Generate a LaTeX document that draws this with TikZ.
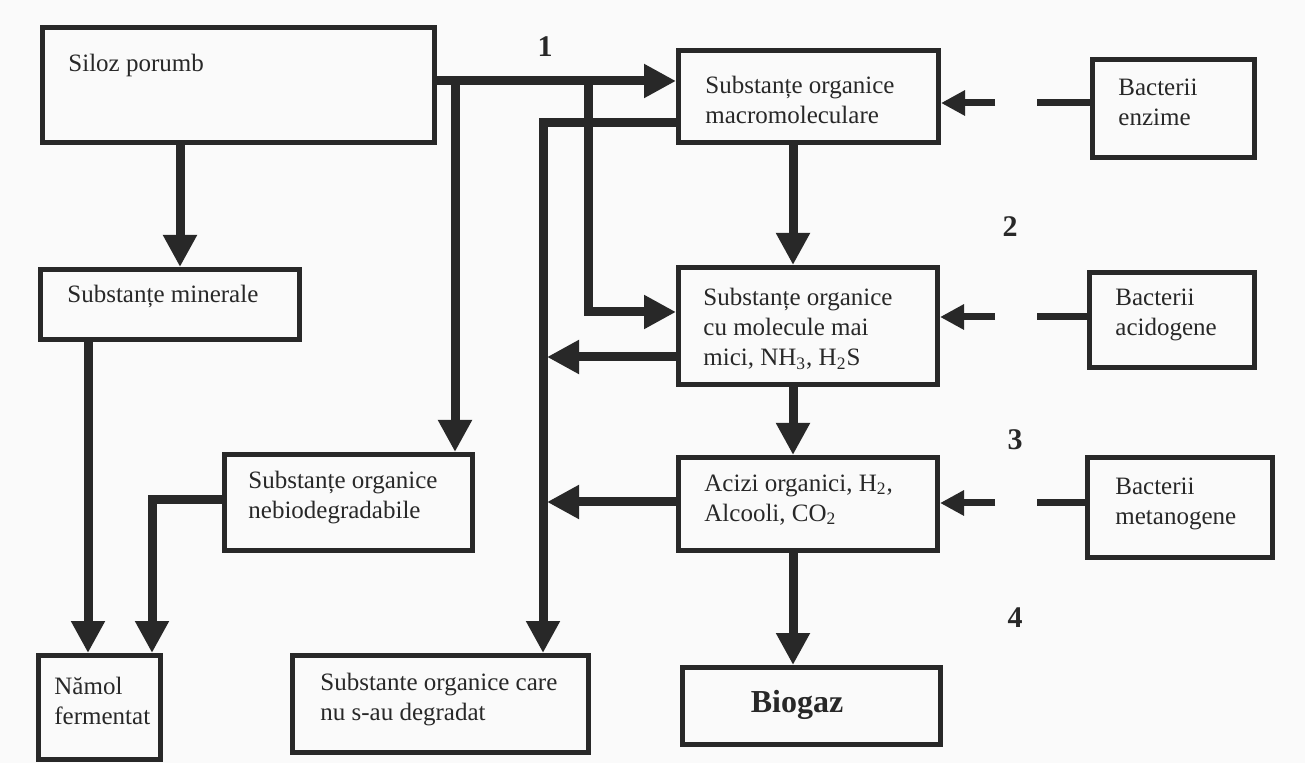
\documentclass[tikz,border=0pt]{standalone}
\usepackage{fontspec}
\setmainfont{Liberation Serif}
\usetikzlibrary{arrows.meta}
\definecolor{ink}{RGB}{40,40,40}
\definecolor{paper}{RGB}{250,250,250}
\tikzstyle{every node}=[inner sep=0pt,text=ink]
\tikzstyle{blk}=[draw=ink,line width=2.5pt,anchor=north west]
\tikzstyle{txt}=[anchor=west,align=left,font=\fontsize{12.5}{15}\selectfont]
\tikzstyle{arr}=[draw=ink,line width=4.5pt,-{Triangle[length=16pt,width=16pt]}]
\tikzstyle{barr}=[draw=ink,line width=3.5pt,-{Triangle[length=12pt,width=12pt]}]
\tikzstyle{bline}=[draw=ink,line width=3.5pt]
\tikzstyle{num}=[font=\bfseries\fontsize{15}{15}\selectfont]

\begin{document}
\begin{tikzpicture}[x=0.5pt,y=-0.5pt]
\fill[paper] (0,0) rectangle (1305,763);
\useasboundingbox (0,0) rectangle (1305,763);
% boxes
\node[blk,minimum width=196pt,minimum height=57.5pt] (siloz) at (40,25) {};
\node[blk,minimum width=130pt,minimum height=46pt] (macro) at (676,48) {};
\node[blk,minimum width=81pt,minimum height=49pt] (enz) at (1090,57) {};
\node[blk,minimum width=129.5pt,minimum height=35pt] (miner) at (38,267) {};
\node[blk,minimum width=129.5pt,minimum height=58.5pt] (cumol) at (676,265) {};
\node[blk,minimum width=82.5pt,minimum height=47.5pt] (acid) at (1087,270) {};
\node[blk,minimum width=124pt,minimum height=48pt] (nebio) at (222,452) {};
\node[blk,minimum width=129.5pt,minimum height=46.5pt] (acizi) at (676,455) {};
\node[blk,minimum width=92.5pt,minimum height=50pt] (metan) at (1085,455) {};
\node[blk,minimum width=61pt,minimum height=52pt] (namol) at (36,653) {};
\node[blk,minimum width=148pt,minimum height=48.5pt] (degr) at (290,653) {};
\node[blk,minimum width=129pt,minimum height=38.5pt] (biogaz) at (680,665) {};
% texts
\node[txt] (siloz-t) at (68,65) {Siloz porumb};
\node[txt] (macro-t) at (705,100) {Substanțe organice\\macromoleculare};
\node[txt] (enz-t) at (1118,102) {Bacterii\\enzime};
\node[txt] (miner-t) at (67,296) {Substanțe minerale};
\node[txt] (cumol-t) at (703,329) {Substanțe organice\\cu molecule mai\\mici, NH\textsubscript{3}, H\textsubscript{2}S};
\node[txt] (acid-t) at (1115,315) {Bacterii\\acidogene};
\node[txt] (nebio-t) at (248,498) {Substanțe organice\\nebiodegradabile};
\node[txt] (acizi-t) at (704,500) {Acizi organici, H\textsubscript{2},\\Alcooli, CO\textsubscript{2}};
\node[txt] (metan-t) at (1115,504) {Bacterii\\metanogene};
\node[txt] (namol-t) at (54,701) {Nămol\\fermentat};
\node[txt] (degr-t) at (320,700) {Substante organice care\\nu s-au degradat};
\node[font=\bfseries\fontsize{16}{16}\selectfont] (biogaz-t) at (797,705) {Biogaz};
% stage numbers
\node[num] (n1) at (545,47) {1};
\node[num] (n2) at (1010,227) {2};
\node[num] (n3) at (1015,440) {3};
\node[num] (n4) at (1015,618) {4};
% branch points
\coordinate (j1) at (455,81);
\coordinate (j2) at (588,81);
\coordinate (v) at (543,123);
\coordinate (c) at (793,0);
% main flow
\draw[arr] (siloz.east |- 0,81) -- (macro.west |- 0,81);
\draw[arr] (j1) -- (nebio.north -| j1);
\draw[arr] (j2) |- (cumol.west |- 0,312);
\draw[arr] (macro.west |- v) -| (degr.north -| v);
\draw[arr,shorten >=2pt] (cumol.west |- 0,357) -- (v |- 0,357);
\draw[arr,shorten >=2pt] (acizi.west |- 0,502) -- (v |- 0,502);
\draw[arr] (macro.south -| c) -- (cumol.north -| c);
\draw[arr] (cumol.south -| c) -- (acizi.north -| c);
\draw[arr] (acizi.south -| c) -- (biogaz.north -| c);
\draw[arr] (siloz.south -| 180,0) -- (miner.north -| 180,0);
\draw[arr] (miner.south -| 88,0) -- (namol.north -| 88,0);
\draw[arr] (nebio.west |- 0,500) -| (namol.north -| 152,0);
% bacteria
\coordinate (g1) at (1037,103);
\coordinate (h1) at (995,103);
\coordinate (g2) at (1037,317);
\coordinate (h2) at (995,317);
\coordinate (g3) at (1037,503);
\coordinate (h3) at (995,503);
\draw[bline] (enz.west |- g1) -- (g1);
\draw[barr] (h1) -- (macro.east |- h1);
\draw[bline] (acid.west |- g2) -- (g2);
\draw[barr] (h2) -- (cumol.east |- h2);
\draw[bline] (metan.west |- g3) -- (g3);
\draw[barr] (h3) -- (acizi.east |- h3);
\end{tikzpicture}
\end{document}
